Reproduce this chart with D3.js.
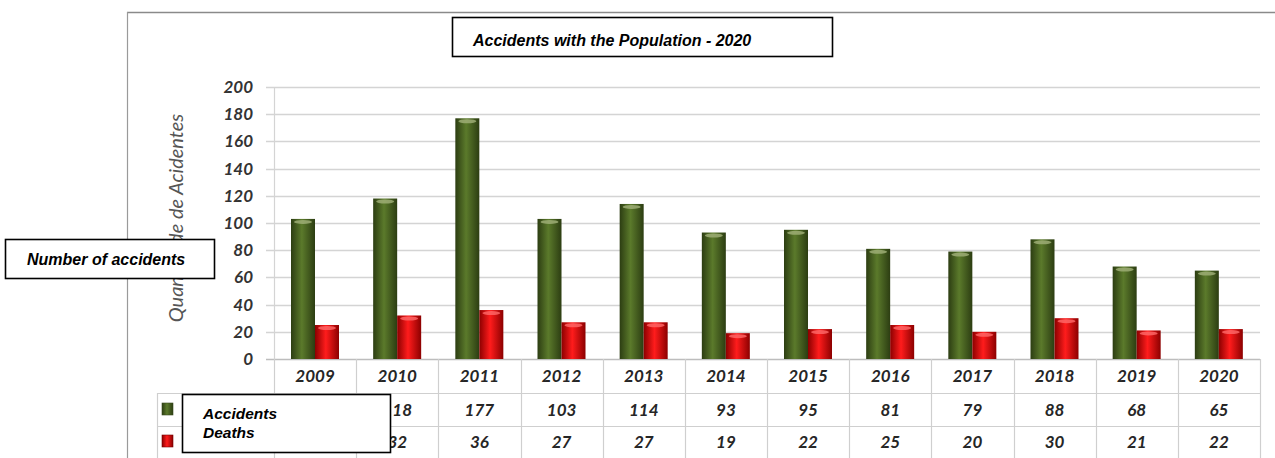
<!DOCTYPE html>
<html><head><meta charset="utf-8">
<script src="https://cdn.jsdelivr.net/npm/d3@7"></script>
<style>body{margin:0;background:#fff}svg{display:block}</style>
</head><body>
<svg id="c" width="1275" height="458"></svg>
<script>
const years = ["2009","2010","2011","2012","2013","2014","2015","2016","2017","2018","2019","2020"];
const accidents = [103,118,177,103,114,93,95,81,79,88,68,65];
const deaths = [25,32,36,27,27,19,22,25,20,30,21,22];
const yTicks = [0,20,40,60,80,100,120,140,160,180,200];
const seriesNames = ["Accidents","Deaths"];
const title = "Accidents with the Population - 2020";
const yTitle = "Quantidade de Acidentes";
const yBoxLabel = "Number of accidents";

(function(){
const svg = d3.select("#c");
const defs = svg.append("defs");
function grad(id, edge, mid){
  const g = defs.append("linearGradient").attr("id",id).attr("x1","0").attr("x2","1").attr("y1","0").attr("y2","0");
  g.append("stop").attr("offset","0%").attr("stop-color",edge);
  g.append("stop").attr("offset","45%").attr("stop-color",mid);
  g.append("stop").attr("offset","100%").attr("stop-color",edge);
}
grad("gG","#2c3d12","#5b7a2b");
grad("gR","#8c0000","#ff1c1c");

const pL=274, pR=1260, pT=87, pB=359;
const x = d3.scaleBand().domain(years).range([pL,pR]);
const y = d3.scaleLinear().domain([0,200]).range([pB,pT]);

// outer frame
svg.append("line").attr("x1",127).attr("x2",1275).attr("y1",12.5).attr("y2",12.5).attr("stroke","#8a8a8a").attr("stroke-width",1.5);
svg.append("line").attr("x1",127.5).attr("x2",127.5).attr("y1",12).attr("y2",458).attr("stroke","#9a9a9a").attr("stroke-width",1.2);

// gridlines
svg.append("g").selectAll("line").data(yTicks).join("line")
  .attr("x1",pL-8).attr("x2",pR).attr("y1",d=>Math.round(y(d))+0.5).attr("y2",d=>Math.round(y(d))+0.5)
  .attr("stroke",d=>d===0?"#bdbdbd":"#d4d4d4").attr("stroke-width",1.3);
svg.append("line").attr("x1",pL+0.5).attr("x2",pL+0.5).attr("y1",pT).attr("y2",pB).attr("stroke","#d4d4d4").attr("stroke-width",1.2);

// y tick labels
svg.append("g").selectAll("text").data(yTicks).join("text")
  .attr("x",253).attr("y",d=>y(d)).attr("dy","0.35em").attr("text-anchor","end")
  .attr("font-family","Lato, 'Open Sans', sans-serif").attr("font-style","italic").attr("font-weight","bold")
  .attr("font-size",17).attr("fill","#333").text(d=>d);

// y title
svg.append("text").attr("transform","translate(183,218) rotate(-90)").attr("text-anchor","middle")
  .attr("font-family","Lato, 'Open Sans', sans-serif").attr("font-style","italic").attr("font-size",20)
  .attr("fill","#555").text(yTitle);

// bars
const bw = 24;
const gx = d => x(d) + 17;
function drawBars(vals, id, topCol){
  const off = id==="gR"?bw:0;
  const g = svg.append("g");
  g.selectAll("rect").data(years).join("rect")
    .attr("x",d=>gx(d)+off).attr("width",bw)
    .attr("y",(d,i)=>y(vals[i])).attr("height",(d,i)=>pB-y(vals[i]))
    .attr("fill",`url(#${id})`);
  g.selectAll("ellipse").data(years).join("ellipse")
    .attr("cx",d=>gx(d)+off+bw/2).attr("cy",(d,i)=>y(vals[i])+3)
    .attr("rx",bw/2-3).attr("ry",2).attr("fill",topCol).attr("opacity",0.8);
}
drawBars(accidents,"gG","#a3b27a");
drawBars(deaths,"gR","#ff6a6a");

// data table
const tg = svg.append("g").attr("stroke","#cfcfcf").attr("stroke-width",1.2);
const vx = years.map(d=>Math.round(x(d))+0.5).concat([pR+0.5]);
tg.selectAll("line.v").data(vx).join("line")
  .attr("x1",d=>d).attr("x2",d=>d).attr("y1",pB).attr("y2",458);
tg.append("line").attr("x1",157.5).attr("x2",157.5).attr("y1",393).attr("y2",458);
tg.selectAll("line.h").data([393,426]).join("line")
  .attr("x1",157).attr("x2",pR).attr("y1",d=>d+0.5).attr("y2",d=>d+0.5);

const tf = {"font-family":"Lato, 'Open Sans', sans-serif","font-style":"italic","font-weight":"bold","font-size":17,"fill":"#262626"};
function row(vals, cy){
  const t = svg.append("g").selectAll("text").data(vals).join("text")
    .attr("x",(d,i)=>x(years[i])+x.bandwidth()/2).attr("y",cy).attr("dy","0.35em").attr("text-anchor","middle").text(d=>d);
  Object.entries(tf).forEach(([k,v])=>t.attr(k,v));
}
row(years,376);
row(accidents,410);
row(deaths,442);

// legend markers
svg.append("rect").attr("x",162).attr("y",403).attr("width",11).attr("height",12).attr("fill","url(#gG)").attr("stroke","#3a4a20").attr("stroke-width",0.6);
svg.append("rect").attr("x",162).attr("y",435).attr("width",11).attr("height",12).attr("fill","url(#gR)").attr("stroke","#700").attr("stroke-width",0.6);

// overlay boxes
const af = "'Liberation Sans', Arial, sans-serif";
svg.append("rect").attr("x",452.5).attr("y",17.5).attr("width",380).attr("height",39).attr("fill","#fff").attr("stroke","#000").attr("stroke-width",1.6);
svg.append("text").attr("x",473).attr("y",45.5).attr("font-family",af).attr("font-style","italic").attr("font-weight","bold").attr("font-size",16).attr("fill","#000").text(title);

svg.append("rect").attr("x",5.5).attr("y",239.5).attr("width",209).attr("height",39).attr("fill","#fff").attr("stroke","#000").attr("stroke-width",1.6);
svg.append("text").attr("x",27).attr("y",265).attr("font-family",af).attr("font-style","italic").attr("font-weight","bold").attr("font-size",16).attr("fill","#000").text(yBoxLabel);

svg.append("rect").attr("x",182.5).attr("y",394.5).attr("width",208).attr("height",58).attr("fill","#fff").attr("stroke","#000").attr("stroke-width",1.6);
svg.append("g").selectAll("text").data(seriesNames).join("text")
  .attr("x",203).attr("y",(d,i)=>419+i*19).attr("font-family",af).attr("font-style","italic").attr("font-weight","bold")
  .attr("font-size",15.5).attr("fill","#000").text(d=>d);
})();
</script>
</body></html>
